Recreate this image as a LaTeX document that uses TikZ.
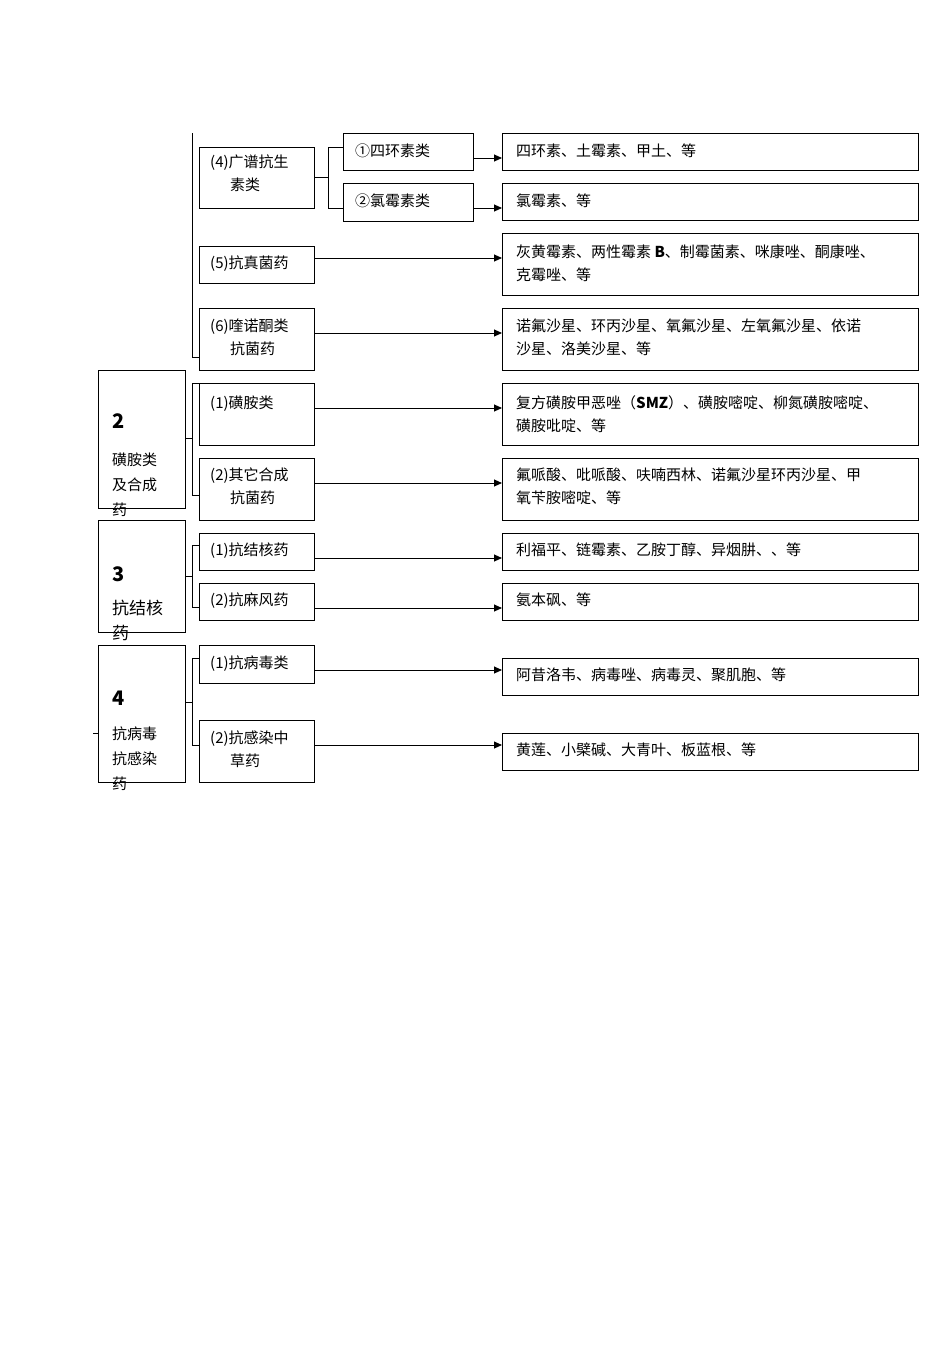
\documentclass[tikz,border=0pt]{standalone}
\usepackage{fontspec}
\setmainfont{Noto Sans CJK SC}
\usetikzlibrary{arrows.meta}
\begin{document}
\begin{tikzpicture}[x=1pt,y=-1pt,
  bx/.style={draw,line width=1pt},
  tx/.style={font=\fontsize{15}{23}\selectfont,anchor=north west,inner sep=0pt,align=left},
  ar/.style={-{Triangle[length=8pt,width=7pt]},line width=0.9pt},
  ln/.style={line width=0.9pt}]
\useasboundingbox (0,0) rectangle (950,1345);
% right boxes
\foreach \n/\a/\b/\y in {r1/133/170/158,r2/183/220/208,r3/233/295/258,r4/308/370/333,r5/383/445/408,r6/458/520/483,r7/533/570/558,r8/583/620/608,r9/658/695/670,r10/733/770/745}
  {\draw[bx] (502,\a) rectangle (918,\b); \coordinate (\n) at (502,\y);}
% middle boxes
\foreach \a/\b in {147/208,246/283,308/370,383/445,458/520,533/570,583/620,645/683,720/782}
  {\draw[bx] (199,\a) rectangle (314,\b);}
\draw[bx] (343,133) rectangle (473,170);
\draw[bx] (343,183) rectangle (473,221);
% left boxes
\draw[bx] (98,370) rectangle (185,508);
\draw[bx] (98,520) rectangle (185,632);
\draw[bx] (98,645) rectangle (185,782);
% texts
\node[tx] (tm4) at (210,155) {(4)广谱抗生\\\hspace*{20pt}素类};
\node[tx] (tq1) at (355,144) {①四环素类};
\node[tx] (tq2) at (355,194) {②氯霉素类};
\node[tx] (tm5) at (210,256) {(5)抗真菌药};
\node[tx] (tm6) at (210,319) {(6)喹诺酮类\\\hspace*{20pt}抗菌药};
\node[tx] (ts1) at (210,396) {(1)磺胺类};
\node[tx] (ts2) at (210,468) {(2)其它合成\\\hspace*{20pt}抗菌药};
\node[tx] (tt1) at (210,543) {(1)抗结核药};
\node[tx] (tt2) at (210,593) {(2)抗麻风药};
\node[tx] (tv1) at (210,656) {(1)抗病毒类};
\node[tx] (tv2) at (210,731) {(2)抗感染中\\\hspace*{20pt}草药};
\node[tx] (l2) at (112,413) {\fontsize{20}{22}\selectfont\bfseries 2};
\node[tx,font=\fontsize{15}{25}\selectfont] (l2t) at (112,453) {磺胺类\\及合成\\药};
\node[tx] (l3) at (112,566) {\fontsize{20}{22}\selectfont\bfseries 3};
\node[tx,font=\fontsize{17}{25}\selectfont] (l3t) at (112,600) {抗结核\\药};
\node[tx] (l4) at (112,691) {\fontsize{20}{22}\selectfont\bfseries 4};
\node[tx,font=\fontsize{15}{25}\selectfont] (l4t) at (112,727) {抗病毒\\抗感染\\药};
\node[tx] (x1) at (516,144) {四环素、土霉素、甲土、等};
\node[tx] (x2) at (516,194) {氯霉素、等};
\node[tx] (x3) at (516,245) {灰黄霉素、两性霉素 \textbf{B}、制霉菌素、咪康唑、酮康唑、\\克霉唑、等};
\node[tx] (x4) at (516,319) {诺氟沙星、环丙沙星、氧氟沙星、左氧氟沙星、依诺\\沙星、洛美沙星、等};
\node[tx] (x5) at (516,395) {复方磺胺甲恶唑（\textbf{SMZ}）、磺胺嘧啶、柳氮磺胺嘧啶、\\磺胺吡啶、等};
\node[tx] (x6) at (516,468) {氟哌酸、吡哌酸、呋喃西林、诺氟沙星环丙沙星、甲\\氧苄胺嘧啶、等};
\node[tx] (x7) at (516,543) {利福平、链霉素、乙胺丁醇、异烟肼、、等};
\node[tx] (x8) at (516,593) {氨本砜、等};
\node[tx] (x9) at (516,668) {阿昔洛韦、病毒唑、病毒灵、聚肌胞、等};
\node[tx] (x10) at (516,743) {黄莲、小檗碱、大青叶、板蓝根、等};
% connectors
\draw[ln] (192,133) -- (192,357) -- (199,357);
\draw[ln] (314,177) -- (328,177);
\draw[ln] (343,147) -- (328,147) -- (328,208) -- (343,208);
\draw[ar] (473,158) -- (r1);
\draw[ar] (473,208) -- (r2);
\draw[ar] (314,258) -- (r3);
\draw[ar] (314,333) -- (r4);
\draw[ln] (185,438) -- (192,438);
\draw[ln] (199,383) -- (192,383) -- (192,495) -- (199,495);
\draw[ar] (314,408) -- (r5);
\draw[ar] (314,483) -- (r6);
\draw[ln] (185,576) -- (192,576);
\draw[ln] (199,545) -- (192,545) -- (192,607) -- (199,607);
\draw[ar] (314,558) -- (r7);
\draw[ar] (314,608) -- (r8);
\draw[ln] (185,702) -- (192,702);
\draw[ln] (199,658) -- (192,658) -- (192,745) -- (199,745);
\draw[ar] (314,670) -- (r9);
\draw[ar] (314,745) -- (r10);
\draw[ln] (93,733) -- (98,733);
\end{tikzpicture}
\end{document}
